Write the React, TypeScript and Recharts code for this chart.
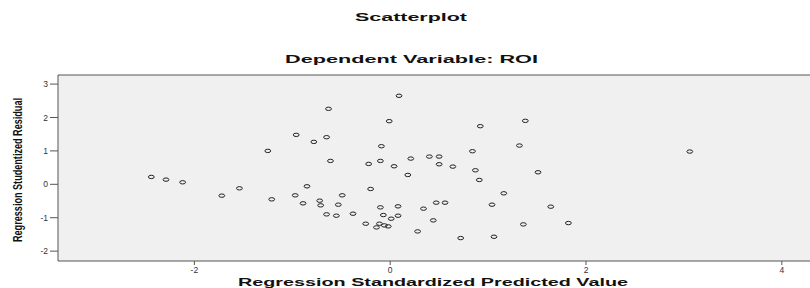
import {
  CartesianGrid,
  ReferenceLine,
  Scatter,
  ScatterChart,
  XAxis,
  YAxis,
} from 'recharts';

// values
const PREDICTED = [
  -2.44, -2.29, -2.12, -1.72, -1.54, -1.25, -1.21, -0.96, -0.97, -0.89,
  -0.85, -0.78, -0.65, -0.63, -0.61, -0.72, -0.71, -0.65, -0.55, -0.53,
  -0.49, -0.38, -0.25, -0.22, -0.2, -0.14, -0.11, -0.1, -0.1, -0.09,
  -0.07, -0.06, -0.02, -0.01, 0.01, 0.04, 0.08, 0.08, 0.09, 0.18,
  0.21, 0.28, 0.34, 0.4, 0.47, 0.5, 0.5, 0.44, 0.56, 0.64,
  0.72, 0.84, 0.87, 0.91, 0.92, 1.04, 1.06, 1.16, 1.32, 1.36,
  1.38, 1.51, 1.64, 1.82, 3.06,
];

const RESIDUAL = [
  0.22, 0.14, 0.06, -0.34, -0.12, 1.0, -0.45, 1.48, -0.33, -0.57,
  -0.06, 1.27, 1.41, 2.26, 0.7, -0.49, -0.63, -0.9, -0.94, -0.61,
  -0.33, -0.88, -1.18, 0.61, -0.14, -1.29, -1.18, -0.69, 0.7, 1.14,
  -0.92, -1.23, -1.26, 1.89, -1.03, 0.54, -0.66, -0.94, 2.65, 0.28,
  0.77, -1.41, -0.73, 0.83, -0.55, 0.83, 0.6, -1.08, -0.55, 0.53,
  -1.61, 0.99, 0.42, 0.13, 1.74, -0.61, -1.57, -0.27, 1.16, -1.2,
  1.9, 0.36, -0.67, -1.16, 0.98,
];

const X_TICKS = [-2, 0, 2, 4];
const Y_TICKS = [-2, -1, 0, 1, 2, 3];
const X_DOMAIN = [-3.393, 4.492];
const Y_DOMAIN = [-2.296, 3.272];

const FONT = '"Liberation Sans", Arial, sans-serif';
const FRAME = '#555';

const points = PREDICTED.map((x, i) => ({ x, y: RESIDUAL[i] }));

function OpenCircle(props: any) {
  const { cx, cy } = props;
  if (cx == null || cy == null) return null;
  return <ellipse cx={cx} cy={cy} rx={2.9} ry={1.7} fill="none" stroke="#222" strokeWidth={1} />;
}

export default function App() {
  return (
    <div
      style={{
        position: 'absolute',
        left: 0,
        top: 0,
        width: 810,
        height: 288,
        overflow: 'hidden',
        background: '#fff',
      }}
    >
      <ScatterChart
        width={840}
        height={288}
        margin={{ top: 75, right: 10, left: 8, bottom: 0 }}
      >
        <CartesianGrid fill="#f0f0f0" stroke="none" />
        <XAxis
          type="number"
          dataKey="x"
          domain={X_DOMAIN}
          ticks={X_TICKS}
          allowDataOverflow
          height={27}
          tickSize={4}
          stroke={FRAME}
          tick={{ fill: '#333', fontSize: 8.5, fontFamily: FONT }}
        />
        <YAxis
          type="number"
          dataKey="y"
          domain={Y_DOMAIN}
          ticks={Y_TICKS}
          allowDataOverflow
          width={50}
          tickSize={8}
          stroke={FRAME}
          tick={{ fill: '#333', fontSize: 8.5, fontFamily: FONT }}
        />
        <ReferenceLine y={Y_DOMAIN[1]} stroke={FRAME} strokeWidth={1} />
        <Scatter data={points} shape={OpenCircle} isAnimationActive={false} />
      </ScatterChart>
      <svg
        width={810}
        height={288}
        style={{ position: 'absolute', left: 0, top: 0, pointerEvents: 'none' }}
      >
        <g fontFamily={FONT} fontWeight="bold" fill="#111" textAnchor="middle">
          <text x={411} y={20.5} fontSize={11} textLength={112} lengthAdjust="spacingAndGlyphs">
            Scatterplot
          </text>
          <text x={411.5} y={63} fontSize={11} textLength={253} lengthAdjust="spacingAndGlyphs">
            Dependent Variable: ROI
          </text>
          <text x={433} y={286} fontSize={11.5} textLength={390} lengthAdjust="spacingAndGlyphs">
            Regression Standardized Predicted Value
          </text>
          <text
            x={22}
            y={170}
            fontSize={12.5}
            textLength={144}
            lengthAdjust="spacingAndGlyphs"
            transform="rotate(-90 22 170)"
          >
            Regression Studentized Residual
          </text>
        </g>
      </svg>
    </div>
  );
}
